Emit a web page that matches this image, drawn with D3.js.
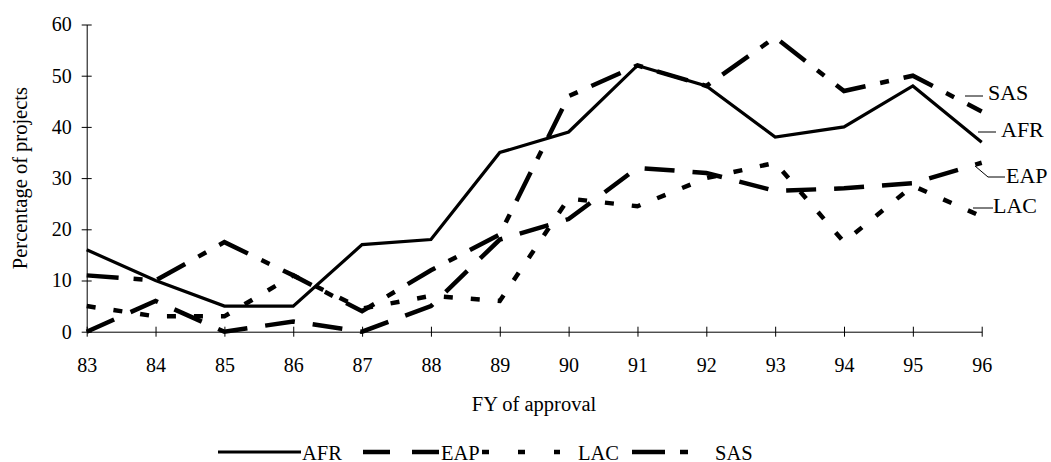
<!DOCTYPE html>
<html>
<head>
<meta charset="utf-8">
<script src="https://cdn.jsdelivr.net/npm/d3@7/dist/d3.min.js"></script>
<style>
  html, body { margin: 0; padding: 0; background: #fff; }
  svg text { font-family: "Liberation Serif", "Times New Roman", serif; fill: #000; }
</style>
</head>
<body>
<svg id="chart" width="1051" height="462"></svg>
<script>
// ---- data ----
const years = [83, 84, 85, 86, 87, 88, 89, 90, 91, 92, 93, 94, 95, 96];
const afr = [16, 10, 5, 5, 17, 18, 35, 39, 52, 48, 38, 40, 48, 37];
const eap = [0, 6, 0, 2, 0, 5, 18, 22, 32, 31, 27.5, 28, 29, 33];
const lac = [5, 3, 3, 11, 4.5, 7, 6, 26, 24.5, 30, 33, 17.5, 28.5, 22.5];
const sas = [11, 10, 17.5, 11, 4, 12, 19, 46, 52, 48, 57.5, 47, 50, 43];
const yTicks = [0, 10, 20, 30, 40, 50, 60];
const seriesNames = ["AFR", "EAP", "LAC", "SAS"];
const yTitle = "Percentage of projects";
const xTitle = "FY of approval";

// ---- layout ----
const svg = d3.select("#chart");
const x = d3.scaleLinear().domain([83, 96]).range([86.7, 981.7]);
const y = d3.scaleLinear().domain([0, 60]).range([331.7, 24.5]);

const styles = {
  AFR: { dash: null, width: 3.2, legendDash: null },
  EAP: { dash: "30,18", width: 4.5, legendDash: "27,22" },
  LAC: { dash: "9,18", width: 4.5, legendDash: "7,29" },
  SAS: { dash: "32,15,9,15", width: 4.5, legendDash: "33,15,8,40" }
};
const values = { AFR: afr, EAP: eap, LAC: lac, SAS: sas };

// axes
const yAxis = d3.axisLeft(y).tickValues(yTicks).tickSizeInner(5).tickSizeOuter(0).tickPadding(10);
const gy = svg.append("g").attr("transform", `translate(${x(83)},0)`).call(yAxis);
gy.selectAll(".tick line").attr("x2", 5).attr("x1", -5);
gy.selectAll("text").style("font-size", "20px").attr("font-family", "Liberation Serif");
gy.select(".domain").attr("stroke", "#000").attr("stroke-width", 1);

const xAxis = d3.axisBottom(x).tickValues(years).tickFormat(d3.format("d")).tickSizeInner(5).tickSizeOuter(0).tickPadding(21);
const gx = svg.append("g").attr("transform", `translate(0,${y(0)})`).call(xAxis);
gx.selectAll(".tick line").attr("y1", -5).attr("y2", 5);
gx.selectAll("text").style("font-size", "20px").attr("font-family", "Liberation Serif");
gx.select(".domain").attr("stroke", "#000").attr("stroke-width", 1);

// titles
svg.append("text")
  .attr("transform", `translate(27,${(y(0) + y(60)) / 2}) rotate(-90)`)
  .attr("text-anchor", "middle")
  .style("font-size", "20.5px")
  .text(yTitle);
svg.append("text")
  .attr("x", 534).attr("y", 411)
  .attr("text-anchor", "middle")
  .style("font-size", "20.5px")
  .text(xTitle);

// lines
const line = d3.line().x((d, i) => x(years[i])).y(d => y(d));
seriesNames.forEach(name => {
  const st = styles[name];
  svg.append("path")
    .datum(values[name])
    .attr("d", line)
    .attr("fill", "none")
    .attr("stroke", "#000")
    .attr("stroke-width", st.width)
    .attr("stroke-linejoin", "miter")
    .attr("stroke-dasharray", st.dash);
});

// end labels with leader lines
const endLabels = [
  { name: "SAS", tx: 988, ty: 100, leader: [[965, 96], [983, 96]] },
  { name: "AFR", tx: 1001, ty: 137, leader: [[978, 132], [996, 132]] },
  { name: "EAP", tx: 1006, ty: 183, leader: [[975, 166], [988, 177], [1005, 177]] },
  { name: "LAC", tx: 993, ty: 213, leader: [[973, 208], [993, 208]] }
];
endLabels.forEach(l => {
  svg.append("path")
    .attr("d", d3.line()(l.leader))
    .attr("fill", "none").attr("stroke", "#000").attr("stroke-width", 1);
  svg.append("text").attr("x", l.tx).attr("y", l.ty)
    .style("font-size", "22px").text(l.name);
});

// legend
const legendItems = [
  { name: "AFR", x0: 218, x1: 301, tx: 302 },
  { name: "EAP", x0: 363, x1: 441, tx: 441 },
  { name: "LAC", x0: 482, x1: 560, tx: 578 },
  { name: "SAS", x0: 632, x1: 690, tx: 715 }
];
const ly = 452;
legendItems.forEach(it => {
  const st = styles[it.name];
  svg.append("line")
    .attr("x1", it.x0).attr("x2", it.x1).attr("y1", ly).attr("y2", ly)
    .attr("stroke", "#000").attr("stroke-width", st.width)
    .attr("stroke-dasharray", st.legendDash);
  svg.append("text").attr("x", it.tx).attr("y", ly + 7.5)
    .style("font-size", "20.5px").text(it.name);
});
</script>
</body>
</html>
